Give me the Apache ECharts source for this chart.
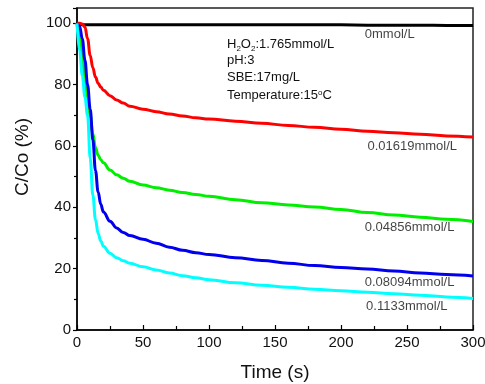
<!DOCTYPE html>
<html>
<head>
<meta charset="utf-8">
<script src="https://cdn.jsdelivr.net/npm/echarts@6/dist/echarts.min.js"></script>
<style>
  html, body { margin: 0; padding: 0; background: #fff; }
  #chart { width: 485px; height: 384px; }
</style>
</head>
<body>
<div id="chart"></div>
<script>
// time points (s)
const times = [0, 2, 4, 6, 8, 10, 12, 14, 16, 18, 20, 25, 30, 35, 40, 50, 60, 70, 80, 90, 100,
  120, 140, 160, 180, 200, 220, 240, 260, 280, 300];

// C/Co (%) for each Fe dosage
const c0 = [100, 99.8, 99.5, 99.5, 99.5, 99.5, 99.5, 99.5, 99.5, 99.5, 99.5, 99.5, 99.5, 99.5, 99.5, 99.5, 99.5,
  99.5, 99.5, 99.5, 99.5, 99.5, 99.5, 99.5, 99.5, 99.5, 99.4, 99.4, 99.4, 99.3, 99.3];
const c01619 = [100, 100, 99.8, 98.8, 95, 89.5, 85.5, 82.5, 80.5, 79.2, 78.2, 76.4, 75, 74, 73, 72, 71.2,
  70.4, 69.8, 69.2, 68.8, 68.1, 67.4, 66.7, 66.1, 65.5, 64.8, 64.3, 63.8, 63.3, 62.9];
const c04856 = [100, 95, 89, 82, 76, 70, 64, 59.5, 57, 55.5, 54.5, 52.2, 50.6, 49.5, 48.5, 47.3, 46.4,
  45.6, 44.8, 44.2, 43.6, 42.5, 41.5, 40.8, 40.1, 39.3, 38.3, 37.5, 36.8, 36.1, 35.4];
const c08094 = [100, 99, 95, 88, 80, 72, 62, 52, 45, 41, 38.5, 35.5, 33.3, 31.8, 30.8, 29.6, 28.3,
  27, 26, 25.2, 24.6, 23.6, 22.7, 21.8, 21, 20.4, 19.9, 19.2, 18.6, 18.1, 17.6];
const c1133 = [100, 91, 83, 76, 70, 56, 44, 36, 31.5, 29, 27.3, 25, 23.6, 22.6, 21.8, 20.6, 19.6,
  18.6, 17.7, 17, 16.4, 15.4, 14.6, 13.9, 13.3, 12.8, 12.3, 11.8, 11.3, 10.8, 10.3];

const seriesNames = ["0mmol/L", "0.01619mmol/L", "0.04856mmol/L", "0.08094mmol/L", "0.1133mmol/L"];
const seriesValues = [c0, c01619, c04856, c08094, c1133];
const seriesColors = ["#000000", "#ff0000", "#00ee00", "#0000ee", "#00ffff"];

// curve labels: [time, value] of the label's left-middle point
const labelAt = [[218, 96.4], [220, 59.8], [218, 33.4], [218, 15.5], [219, 7.8]];

const xTicks = [0, 50, 100, 150, 200, 250, 300];
const yTicks = [0, 20, 40, 60, 80, 100];

const chart = echarts.init(document.getElementById("chart"), null, { renderer: "canvas" });

const lineSeries = seriesNames.map((name, i) => ({
  name,
  type: "line",
  data: times.map((t, j) => [t, seriesValues[i][j]]),
  smooth: 0.4,
  smoothMonotone: "x",
  showSymbol: false,
  lineStyle: { color: seriesColors[i], width: 3 },
  z: 2 + i,
}));

const labelSeries = {
  type: "scatter",
  symbolSize: 0,
  silent: true,
  data: labelAt.map((p, i) => ({ value: p, name: seriesNames[i] })),
  label: {
    show: true,
    position: "right",
    distance: 0,
    formatter: (p) => p.name,
    color: "#111",
    fontSize: 13,
    fontFamily: "Liberation Sans, Arial, sans-serif",
  },
  z: 10,
};

chart.setOption({
  backgroundColor: "#fff",
  animation: false,
  textStyle: { fontFamily: "Liberation Sans, Arial, sans-serif" },
  grid: {
    left: 77,
    right: 12,
    top: 8,
    bottom: 54,
    outerBoundsMode: "none",
    containLabel: false,
    show: true,
    borderColor: "#222",
    borderWidth: 1.5,
  },
  xAxis: {
    type: "value",
    min: 0,
    max: 300,
    interval: 50,
    name: "Time (s)",
    nameLocation: "middle",
    nameGap: 33,
    nameTextStyle: { fontSize: 19, color: "#111" },
    axisLine: { lineStyle: { color: "#000", width: 1.5 } },
    axisTick: { inside: true, length: 5, lineStyle: { color: "#000", width: 1.2 } },
    minorTick: { show: true, splitNumber: 2, length: 4, lineStyle: { color: "#000", width: 1.2 } },
    axisLabel: {
      fontSize: 15,
      color: "#111",
      margin: 5,
      formatter: (v) => (xTicks.includes(v) ? String(v) : ""),
    },
    splitLine: { show: false },
  },
  yAxis: {
    type: "value",
    min: 0,
    max: 105,
    interval: 20,
    axisLine: { lineStyle: { color: "#000", width: 1.5 } },
    axisTick: { length: 4, lineStyle: { color: "#000", width: 1.2 } },
    minorTick: { show: true, splitNumber: 2, length: 3, lineStyle: { color: "#000", width: 1.2 } },
    axisLabel: {
      fontSize: 15,
      color: "#111",
      margin: 6,
      formatter: (v) => (yTicks.includes(v) ? String(v) : ""),
    },
    splitLine: { show: false },
  },
  graphic: [
    {
      // y axis title, sits a bit above the plot's centre like the original
      type: "text",
      x: 23,
      y: 157,
      rotation: Math.PI / 2,
      style: {
        text: "C/Co (%)",
        fill: "#111",
        font: "19px Liberation Sans, Arial, sans-serif",
        align: "center",
        verticalAlign: "middle",
      },
    },
    {
      type: "text",
      left: 227,
      top: 36,
      style: {
        text: "H{sub|2}O{sub|2}:1.765mmol/L\npH:3\nSBE:17mg/L\n{gap|}\nTemperature:15{sup|o}C",
        fill: "#111",
        font: "13px Liberation Sans, Arial, sans-serif",
        lineHeight: 16.5,
        rich: {
          sub: { fontSize: 8, verticalAlign: "bottom", padding: [7, 0, 0, 0] },
          sup: { fontSize: 8, padding: [0, 0, 6, 0] },
          gap: { lineHeight: 2, fontSize: 2 },
        },
      },
    },
  ],
  series: [...lineSeries, labelSeries],
});
</script>
</body>
</html>
